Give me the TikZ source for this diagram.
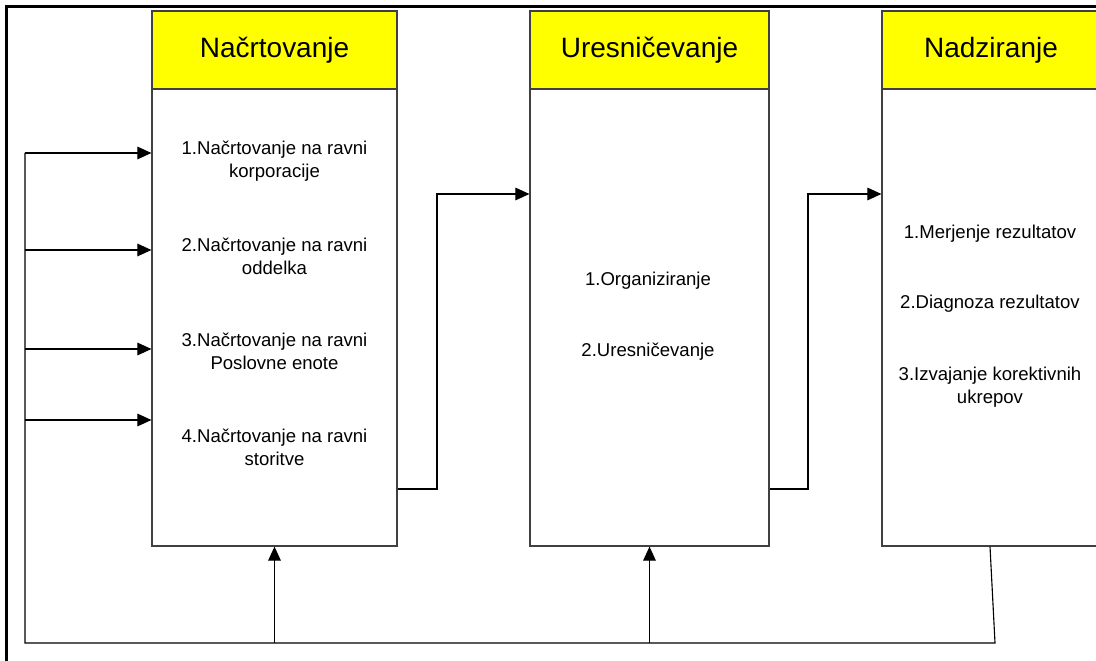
\documentclass[tikz,border=0pt]{standalone}
\usepackage{fontspec}
\setmainfont{Liberation Sans}
\usetikzlibrary{arrows.meta}
\definecolor{rumena}{RGB}{255,255,0}

\begin{document}
\begin{tikzpicture}[x=0.025cm,y=-0.025cm,
        glava/.style={draw=black!75,fill=rumena,line width=0.8pt,minimum height=1.95cm,
            font=\fontsize{19.9}{24}\selectfont},
        telo/.style={draw=black!75,line width=0.8pt,minimum height=11.425cm},
        tekst/.style={align=center,font=\fontsize{13.2}{16.4}\selectfont},
        puscica/.style={line width=0.8pt,-{Triangle[length=10pt,width=9pt]}}
    ]

            \useasboundingbox (0,0) rectangle (1096,661);

            \draw[line width=2.4pt] (6.5,680) -- (6.5,6.5) -- (1120,6.5);

            \node[glava,minimum width=6.125cm] (nacrth) at (274.5,50) {Načrtovanje};
            \node[telo,minimum width=6.125cm] (nacrt) at (274.5,317.5) {};
            \node[glava,minimum width=5.975cm] (uresh) at (649.5,50) {Uresničevanje};
            \node[telo,minimum width=5.975cm] (ures) at (649.5,317.5) {};
            \node[glava,minimum width=5.45cm] (nadzh) at (991,50) {Nadziranje};
            \node[telo,minimum width=5.45cm] (nadz) at (991,317.5) {};

            \node[tekst] (n1) at (274.5,161.5) {1.Načrtovanje na ravni\\korporacije};
            \node[tekst] (n2) at (274.5,256.5) {2.Načrtovanje na ravni\\oddelka};
            \node[tekst] (n3) at (274.5,351.5) {3.Načrtovanje na ravni\\Poslovne enote};
            \node[tekst] (n4) at (274.5,447.5) {4.Načrtovanje na ravni\\storitve};

            \node[tekst] (u1) at (648,281) {1.Organiziranje};
            \node[tekst] (u2) at (648,352) {2.Uresničevanje};

            \node[tekst] (z1) at (990,234) {1.Merjenje rezultatov};
            \node[tekst] (z2) at (990,304) {2.Diagnoza rezultatov};
            \node[tekst] (z3) at (990,387.5) {3.Izvajanje korektivnih\\ukrepov};

            \draw[puscica] (nacrt.east |- 0,489) -| (437,194) -- (ures.west |- 0,194);
            \draw[puscica] (ures.east |- 0,489) -| (808,194) -- (nadz.west |- 0,194);

            \draw[line width=0.8pt] (nadz.south -| 990,0) -- (995,643) -- (25,643) -- (25,153);
            \foreach \y in {153,250,349,420}
                \draw[puscica] (25,\y) -- (nacrt.west |- 0,\y);
            \draw[puscica] (nacrt.south |- 0,643) -- (nacrt.south);
            \draw[puscica] (ures.south |- 0,643) -- (ures.south);

\end{tikzpicture}
\end{document}
